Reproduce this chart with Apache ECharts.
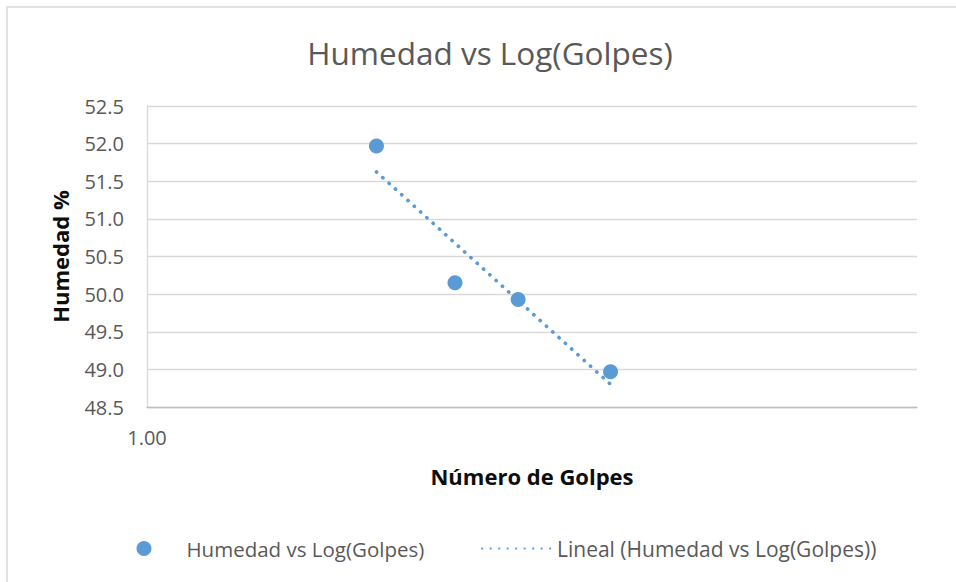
<!DOCTYPE html>
<html>
<head>
<meta charset="utf-8">
<title>Humedad vs Log(Golpes)</title>
<script src="https://cdn.jsdelivr.net/npm/echarts@6/dist/echarts.min.js"></script>
<style>
  html, body { margin: 0; padding: 0; background: #ffffff; }
  #chart { width: 956px; height: 582px; }
</style>
</head>
<body>
<div id="chart"></div>
<script>
// Ensayo de límite líquido: humedad frente al logaritmo del número de golpes
const logGolpes = [1.298, 1.400, 1.482, 1.602];
const humedad = [51.97, 50.15, 49.93, 48.97];

// Escalas de los ejes
const yMin = 48.5, yMax = 52.5, yStep = 0.5;
const xMin = 1, xMax = 2, xStep = 1;

const serieName = 'Humedad vs Log(Golpes)';
const trendName = 'Lineal (Humedad vs Log(Golpes))';

// Ajuste lineal por mínimos cuadrados
function linearFit(xs, ys) {
  const n = xs.length;
  const mx = xs.reduce((a, b) => a + b, 0) / n;
  const my = ys.reduce((a, b) => a + b, 0) / n;
  let sxy = 0, sxx = 0;
  for (let i = 0; i < n; i++) {
    sxy += (xs[i] - mx) * (ys[i] - my);
    sxx += (xs[i] - mx) * (xs[i] - mx);
  }
  const m = sxy / sxx;
  return { m: m, b: my - m * mx };
}

const fit = linearFit(logGolpes, humedad);
const x0 = Math.min(...logGolpes), x1 = Math.max(...logGolpes);
const trendData = [[x0, fit.m * x0 + fit.b], [x1, fit.m * x1 + fit.b]];
const points = logGolpes.map((x, i) => [x, humedad[i]]);

const FONT = 'Open Sans';
const BLUE = '#5B9BD5';
const GREY_TEXT = '#595959';

const chart = echarts.init(document.getElementById('chart'), null, { renderer: 'svg' });

chart.setOption({
  backgroundColor: '#ffffff',
  animation: false,
  title: {
    text: 'Humedad vs Log(Golpes)',
    left: 485,
    top: 31,
    textAlign: 'center',
    textStyle: { fontFamily: FONT, fontSize: 31.5, fontWeight: 'normal', color: GREY_TEXT }
  },
  graphic: [{
    type: 'rect',
    silent: true,
    shape: { x: 7, y: 7, width: 1000, height: 1000 },
    style: { fill: 'none', stroke: '#d9d9d9', lineWidth: 1.5 }
  }],
  legend: [{
    data: [serieName],
    left: 136.5,
    top: 538,
    padding: 0,
    itemWidth: 15,
    itemHeight: 15,
    textStyle: { fontFamily: FONT, fontSize: 20.5, color: GREY_TEXT, padding: [0, 0, 0, 30] }
  }, {
    data: [trendName],
    left: 481,
    top: 538,
    padding: 0,
    itemWidth: 70,
    itemHeight: 15,
    itemStyle: { opacity: 0 },
    textStyle: { fontFamily: FONT, fontSize: 21, color: GREY_TEXT }
  }],
  grid: { left: 147, right: 39, top: 106, bottom: 175, containLabel: false },
  xAxis: {
    type: 'value',
    min: xMin,
    max: xMax,
    interval: xStep,
    name: 'Número de Golpes',
    nameLocation: 'middle',
    nameGap: 58,
    nameTextStyle: { fontFamily: FONT, fontSize: 22, fontWeight: 'bold', color: '#0d0d0d' },
    axisLine: { show: true, lineStyle: { color: '#bfbfbf', width: 1.3 } },
    axisTick: { show: false },
    splitLine: { show: false },
    axisLabel: {
      showMaxLabel: false,
      margin: 20,
      fontFamily: FONT, fontSize: 20, color: GREY_TEXT,
      formatter: v => v.toFixed(2)
    }
  },
  yAxis: {
    type: 'value',
    min: yMin,
    max: yMax,
    interval: yStep,
    name: 'Humedad %',
    nameLocation: 'middle',
    nameGap: 76,
    nameTextStyle: { fontFamily: FONT, fontSize: 22, fontWeight: 'bold', color: '#0d0d0d' },
    axisLine: { show: true, lineStyle: { color: '#d9d9d9', width: 1.3 } },
    axisTick: { show: false },
    splitLine: { show: true, lineStyle: { color: '#d9d9d9', width: 1.3 } },
    axisLabel: {
      margin: 23,
      fontFamily: FONT, fontSize: 20, color: GREY_TEXT,
      formatter: v => v.toFixed(1)
    }
  },
  series: [{
    name: serieName,
    type: 'scatter',
    data: points,
    symbol: 'circle',
    symbolSize: 15,
    itemStyle: { color: BLUE, opacity: 1 },
    z: 3
  }, {
    name: trendName,
    type: 'line',
    data: trendData,
    symbol: 'none',
    showSymbol: false,
    itemStyle: { color: BLUE },
    lineStyle: { color: BLUE, width: 3.6, type: [0.3, 8.2], cap: 'round' },
    z: 2
  }]
});
</script>
</body>
</html>
